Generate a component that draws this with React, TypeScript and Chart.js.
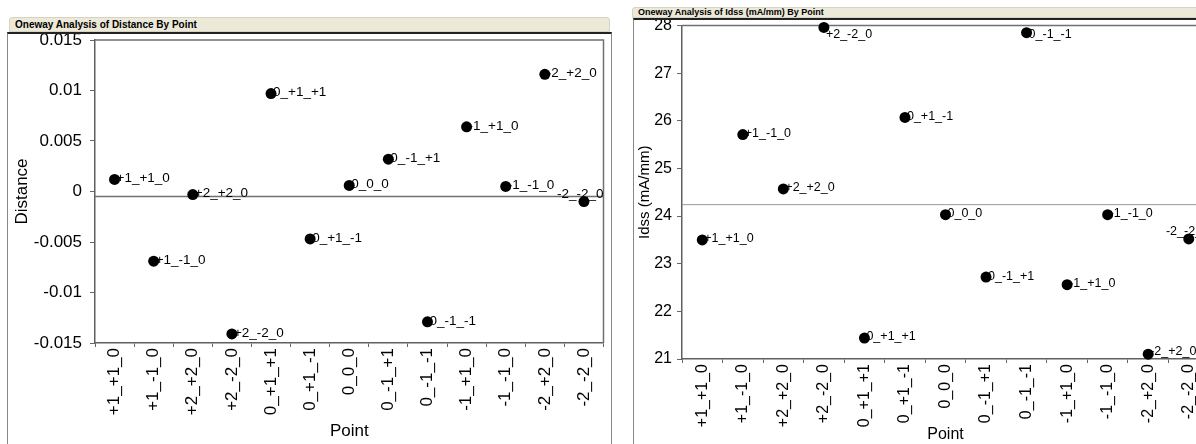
import React, { useEffect, useRef } from "react";
import { Chart, registerables } from "chart.js";

Chart.register(...registerables);

const points = ["+1_+1_0", "+1_-1_0", "+2_+2_0", "+2_-2_0", "0_+1_+1", "0_+1_-1", "0_0_0", "0_-1_+1", "0_-1_-1", "-1_+1_0", "-1_-1_0", "-2_+2_0", "-2_-2_0"];
const distance = [0.0012, -0.0069, -0.0003, -0.0141, 0.0097, -0.0047, 0.0006, 0.0032, -0.0129, 0.0064, 0.0005, 0.0116, -0.001];
const distanceMean = -0.0005;
const distanceTicks = [-0.015, -0.01, -0.005, 0, 0.005, 0.01, 0.015];
const idss = [23.5, 25.71, 24.57, 27.96, 21.44, 26.07, 24.03, 22.72, 27.85, 22.56, 24.03, 21.1, 23.52];
const idssMean = 24.24;
const idssTicks = [21, 22, 23, 24, 25, 26, 27, 28];

const FONT = "'Liberation Sans', Arial, sans-serif";

const decorPlugin = {
  id: "decor",
  beforeDatasetsDraw(chart: any, _args: any, opts: any) {
    const { ctx, chartArea: a } = chart;
    const y = chart.scales.y;
    ctx.save();
    const my = y.getPixelForValue(opts.mean);
    ctx.strokeStyle = opts.meanColor;
    ctx.lineWidth = opts.meanWidth;
    ctx.beginPath();
    ctx.moveTo(a.left, my);
    ctx.lineTo(a.right, my);
    ctx.stroke();
    ctx.strokeStyle = opts.boxColor;
    ctx.lineWidth = opts.boxWidth;
    ctx.beginPath();
    ctx.moveTo(a.left, a.top);
    ctx.lineTo(a.right, a.top);
    ctx.lineTo(a.right, a.bottom);
    ctx.stroke();
    ctx.font = opts.labelFont;
    ctx.fillStyle = "#000";
    ctx.textBaseline = "middle";
    ctx.textAlign = "left";
    const meta = chart.getDatasetMeta(0);
    meta.data.forEach((pt: any, i: number) => {
      const text = String(chart.data.labels[i]);
      const w = ctx.measureText(text).width;
      let tx = pt.x + 2;
      let ty = pt.y - 1;
      if (tx + w > a.right) {
        tx = a.right - w;
        ty = pt.y - 7;
      }
      ty = Math.max(ty, a.top + 9);
      ty = Math.min(ty, a.bottom - 7);
      ctx.fillText(text, tx, ty);
    });
    ctx.restore();
  },
};

type PanelProps = {
  values: number[];
  mean: number;
  ticks: number[];
  yTitle: string;
  min: number;
  max: number;
  width: number;
  height: number;
  yWidth: number;
  xHeight: number;
  padTop: number;
  padRight: number;
  tickSize: number;
  xTickSize: number;
  titleSize: number;
  yTitleSize: number;
  yTitlePad: number;
  xTitlePad: number;
  labelSize: number;
  meanColor: string;
  meanWidth: number;
  yTickPad: number;
};

function Panel(p: PanelProps) {
  const ref = useRef<HTMLCanvasElement | null>(null);
  useEffect(() => {
    if (!ref.current) return;
    const chart = new Chart(ref.current, {
      type: "line",
      data: {
        labels: points,
        datasets: [
          {
            data: p.values,
            showLine: false,
            pointRadius: 5.5,
            pointBackgroundColor: "#000",
            pointBorderColor: "#000",
            pointBorderWidth: 0,
            clip: false as any,
          },
        ],
      },
      plugins: [decorPlugin as any],
      options: {
        animation: false,
        responsive: false,
        devicePixelRatio: 1,
        events: [],
        layout: { padding: { top: p.padTop, right: p.padRight, left: 0, bottom: 0 } },
        plugins: {
          legend: { display: false },
          tooltip: { enabled: false },
          decor: {
            mean: p.mean,
            meanColor: p.meanColor,
            meanWidth: p.meanWidth,
            boxColor: "#707070",
            boxWidth: 1.5,
            labelFont: `${p.labelSize}px ${FONT}`,
          },
        } as any,
        scales: {
          x: {
            type: "category",
            offset: true,
            grid: {
              display: true,
              drawOnChartArea: false,
              drawTicks: true,
              tickLength: 4,
              offset: true,
              color: "#666",
              lineWidth: 1,
            },
            border: { display: true, color: "#606060", width: 1.5 },
            ticks: {
              autoSkip: false,
              maxRotation: 90,
              minRotation: 90,
              padding: 1,
              color: "#000",
              font: { family: FONT, size: p.xTickSize },
            },
            title: {
              display: true,
              text: "Point",
              color: "#000",
              font: { family: FONT, size: p.titleSize },
              padding: { top: 0, bottom: p.xTitlePad },
            },
            afterFit(s: any) {
              s.height = p.xHeight;
              s.paddingLeft = 0;
              s.paddingRight = 0;
            },
          } as any,
          y: {
            min: p.min,
            max: p.max,
            afterBuildTicks(s: any) {
              s.ticks = p.ticks.map((v) => ({ value: v }));
            },
            grid: {
              display: true,
              drawOnChartArea: false,
              drawTicks: true,
              tickLength: 5,
              color: "#666",
              lineWidth: 1,
            },
            border: { display: true, color: "#606060", width: 1.5 },
            ticks: {
              padding: p.yTickPad,
              color: "#000",
              font: { family: FONT, size: p.tickSize },
              callback: (v: any) => String(Number(Number(v).toFixed(3))),
            },
            title: {
              display: true,
              text: p.yTitle,
              color: "#000",
              font: { family: FONT, size: p.yTitleSize },
              padding: { top: p.yTitlePad, bottom: 0 },
            },
            afterFit(s: any) {
              s.width = p.yWidth;
              s.paddingTop = 0;
              s.paddingBottom = 0;
            },
          } as any,
        },
      },
    });
    return () => chart.destroy();
  }, []);
  return <canvas ref={ref} width={p.width} height={p.height} style={{ display: "block" }} />;
}

const titleBar = (left: number, top: number, width: number, height: number, size: number, text: string) => (
  <div
    style={{
      position: "absolute",
      left,
      top,
      width,
      height,
      boxSizing: "border-box",
      background: "#ece9d8",
      border: "1px solid #d6d3c4",
      borderRadius: "3px 3px 0 0",
      font: `bold ${size}px ${FONT}`,
      lineHeight: `${height - 2}px`,
      paddingLeft: 5,
      color: "#000",
      whiteSpace: "nowrap",
      overflow: "hidden",
    }}
  >
    {text}
  </div>
);

export default function App() {
  return (
    <div
      style={{
        position: "fixed",
        left: 0,
        top: 0,
        width: 1196,
        height: 444,
        overflow: "hidden",
        background: "#fff",
      }}
    >
      {titleBar(9, 17, 601, 15, 10, "Oneway Analysis of Distance By Point")}
      <div
        style={{
          position: "absolute",
          left: 7,
          top: 32,
          width: 605,
          height: 430,
          boxSizing: "border-box",
          borderTop: "2px solid #222",
          borderLeft: "1.5px solid #888",
          borderRight: "1.5px solid #888",
        }}
      />
      <div style={{ position: "absolute", left: 9, top: 34 }}>
        <Panel
          values={distance}
          mean={distanceMean}
          ticks={distanceTicks}
          yTitle="Distance"
          min={-0.015}
          max={0.015}
          width={600}
          height={410}
          yWidth={86}
          xHeight={101}
          padTop={6}
          padRight={2}
          tickSize={17}
          xTickSize={17}
          titleSize={17}
          yTitleSize={17}
          yTitlePad={3}
          xTitlePad={2}
          labelSize={13.5}
          meanColor="#707070"
          meanWidth={1.5}
          yTickPad={8}
        />
      </div>
      {titleBar(632, 7, 570, 11, 9, "Oneway Analysis of Idss (mA/mm) By Point")}
      <div
        style={{
          position: "absolute",
          left: 633,
          top: 18,
          width: 600,
          height: 440,
          boxSizing: "border-box",
          borderTop: "2px solid #222",
          borderLeft: "1.5px solid #888",
        }}
      />
      <div style={{ position: "absolute", left: 635, top: 20 }}>
        <Panel
          values={idss}
          mean={idssMean}
          ticks={idssTicks}
          yTitle="Idss (mA/mm)"
          min={21}
          max={28}
          width={580}
          height={424}
          yWidth={47}
          xHeight={85}
          padTop={4}
          padRight={6}
          tickSize={16}
          xTickSize={16}
          titleSize={16}
          yTitleSize={15}
          yTitlePad={1}
          xTitlePad={0}
          labelSize={12.5}
          meanColor="#9a9a9a"
          meanWidth={1}
          yTickPad={5}
        />
      </div>
    </div>
  );
}
